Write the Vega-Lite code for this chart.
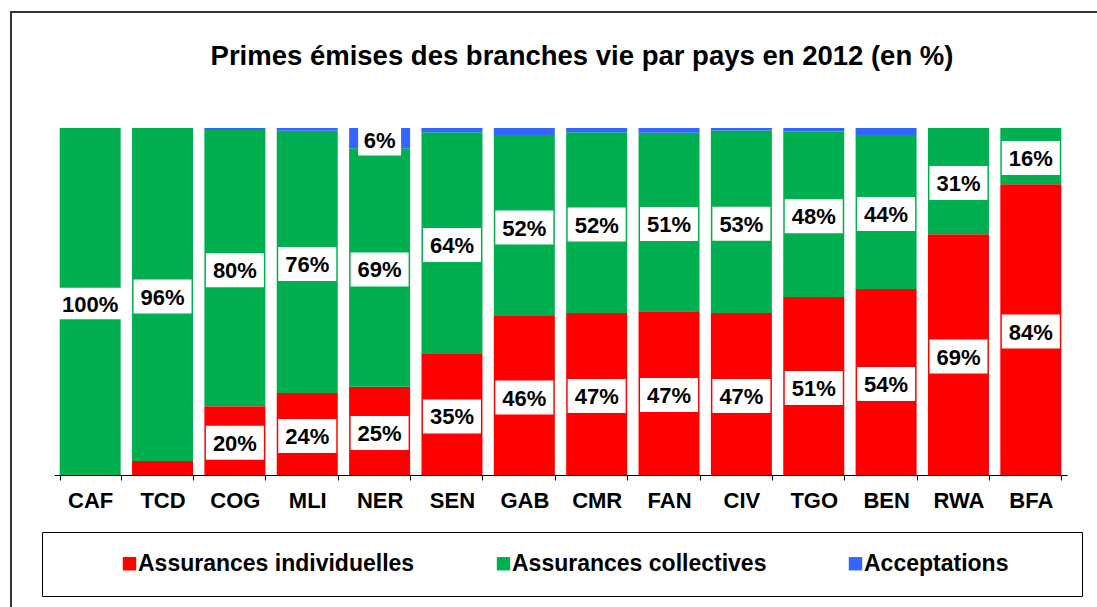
{
  "$schema": "https://vega.github.io/schema/vega-lite/v6.json",
  "autosize": "none",
  "width": 1100,
  "height": 600,
  "padding": {"left": 11, "top": 12, "right": 0, "bottom": 0},
  "background": "white",
  "config": {
    "view": {"stroke": "#333333", "strokeWidth": 2},
    "font": "Liberation Sans"
  },
  "title": {
    "text": "Primes émises des branches vie par pays en 2012 (en %)",
    "fontSize": 27.5,
    "fontWeight": "bold",
    "font": "Liberation Sans",
    "color": "black",
    "anchor": "middle",
    "frame": "group",
    "baseline": "middle",
    "offset": -72,
    "dx": 21
  },
  "data": {
    "values": [
      {"pays": "CAF", "type": "Assurances individuelles", "value": 0},
      {"pays": "CAF", "type": "Assurances collectives", "value": 1.0},
      {"pays": "CAF", "type": "Acceptations", "value": 0},
      {"pays": "TCD", "type": "Assurances individuelles", "value": 0.04},
      {"pays": "TCD", "type": "Assurances collectives", "value": 0.96},
      {"pays": "TCD", "type": "Acceptations", "value": 0},
      {"pays": "COG", "type": "Assurances individuelles", "value": 0.198},
      {"pays": "COG", "type": "Assurances collectives", "value": 0.796},
      {"pays": "COG", "type": "Acceptations", "value": 0.006},
      {"pays": "MLI", "type": "Assurances individuelles", "value": 0.236},
      {"pays": "MLI", "type": "Assurances collectives", "value": 0.756},
      {"pays": "MLI", "type": "Acceptations", "value": 0.008},
      {"pays": "NER", "type": "Assurances individuelles", "value": 0.254},
      {"pays": "NER", "type": "Assurances collectives", "value": 0.688},
      {"pays": "NER", "type": "Acceptations", "value": 0.058},
      {"pays": "SEN", "type": "Assurances individuelles", "value": 0.349},
      {"pays": "SEN", "type": "Assurances collectives", "value": 0.639},
      {"pays": "SEN", "type": "Acceptations", "value": 0.012},
      {"pays": "GAB", "type": "Assurances individuelles", "value": 0.458},
      {"pays": "GAB", "type": "Assurances collectives", "value": 0.522},
      {"pays": "GAB", "type": "Acceptations", "value": 0.02},
      {"pays": "CMR", "type": "Assurances individuelles", "value": 0.467},
      {"pays": "CMR", "type": "Assurances collectives", "value": 0.521},
      {"pays": "CMR", "type": "Acceptations", "value": 0.012},
      {"pays": "FAN", "type": "Assurances individuelles", "value": 0.472},
      {"pays": "FAN", "type": "Assurances collectives", "value": 0.514},
      {"pays": "FAN", "type": "Acceptations", "value": 0.014},
      {"pays": "CIV", "type": "Assurances individuelles", "value": 0.467},
      {"pays": "CIV", "type": "Assurances collectives", "value": 0.526},
      {"pays": "CIV", "type": "Acceptations", "value": 0.007},
      {"pays": "TGO", "type": "Assurances individuelles", "value": 0.513},
      {"pays": "TGO", "type": "Assurances collectives", "value": 0.477},
      {"pays": "TGO", "type": "Acceptations", "value": 0.01},
      {"pays": "BEN", "type": "Assurances individuelles", "value": 0.536},
      {"pays": "BEN", "type": "Assurances collectives", "value": 0.444},
      {"pays": "BEN", "type": "Acceptations", "value": 0.02},
      {"pays": "RWA", "type": "Assurances individuelles", "value": 0.694},
      {"pays": "RWA", "type": "Assurances collectives", "value": 0.306},
      {"pays": "RWA", "type": "Acceptations", "value": 0},
      {"pays": "BFA", "type": "Assurances individuelles", "value": 0.838},
      {"pays": "BFA", "type": "Assurances collectives", "value": 0.162},
      {"pays": "BFA", "type": "Acceptations", "value": 0}
    ]
  },
  "transform": [
    {"stack": "value", "groupby": ["pays"], "sort": [{"field": "type", "order": "descending"}], "as": ["v0", "v1"]},
    {"calculate": "(datum.v0 + datum.v1) / 2", "as": "mid"}
  ],
  "encoding": {
    "x": {
      "field": "pays",
      "type": "nominal",
      "sort": null,
      "scale": {"range": [43, 1056], "paddingInner": 0.157, "paddingOuter": 0.0785},
      "axis": {
        "title": null,
        "orient": "bottom",
        "offset": -137,
        "labelAngle": 0,
        "labelFont": "Liberation Sans",
        "labelFontSize": 22,
        "labelFontWeight": "bold",
        "labelColor": "black",
        "labelPadding": 10,
        "tickSize": 5,
        "tickColor": "black",
        "domainColor": "black",
        "tickBand": "extent",
        "grid": false
      }
    }
  },
  "layer": [
    {
      "mark": {"type": "bar"},
      "encoding": {
        "y": {"field": "v0", "type": "quantitative", "scale": {"domain": [0, 1], "range": [463, 116], "nice": false, "zero": false}, "axis": null},
        "y2": {"field": "v1"},
        "color": {
          "field": "type",
          "type": "nominal",
          "scale": {
            "domain": ["Assurances individuelles", "Assurances collectives", "Acceptations"],
            "range": ["#FF0000", "#00B050", "#3366FF"]
          },
          "legend": {
            "orient": "none",
            "legendX": 31,
            "legendY": 520,
            "direction": "horizontal",
            "strokeColor": "black",
            "fillColor": "white",
            "padding": 20,
            "symbolType": "square",
            "symbolSize": 180,
            "symbolStrokeWidth": 0,
            "symbolOffset": 56,
            "labelOffset": -3,
            "columnPadding": 21,
            "labelFont": "Liberation Sans",
            "labelFontSize": 23,
            "labelFontWeight": "bold",
            "labelColor": "black",
            "labelLimit": 400,
            "title": ".",
            "titleOrient": "right",
            "titleColor": "transparent",
            "titleFontSize": 10,
            "titlePadding": 51
          }
        }
      }
    },
    {
      "transform": [{"filter": "datum.value >= 0.05"}],
      "mark": {"type": "point", "filled": true, "fill": "white", "opacity": 1, "strokeWidth": 0, "yOffset": 2},
      "encoding": {
        "y": {"field": "mid", "type": "quantitative"},
        "shape": {
          "condition": [
            {"test": "datum.value >= 0.995", "value": "M-1,-0.46H1V0.46H-1Z"},
            {"test": "datum.value < 0.095", "value": "M-1,-0.72H1V0.72H-1Z"}
          ],
          "value": "M-1,-0.586H1V0.586H-1Z"
        },
        "size": {
          "condition": [
            {"test": "datum.value >= 0.995", "value": 4624},
            {"test": "datum.value < 0.095", "value": 1849}
          ],
          "value": 3364
        }
      }
    },
    {
      "transform": [{"filter": "datum.value >= 0.05"}],
      "mark": {"type": "text", "font": "Liberation Sans", "fontSize": 22, "fontWeight": "bold", "color": "black", "baseline": "middle", "align": "center", "dy": 3},
      "encoding": {
        "y": {"field": "mid", "type": "quantitative"},
        "text": {"field": "value", "type": "quantitative", "format": ".0%"}
      }
    }
  ]
}
